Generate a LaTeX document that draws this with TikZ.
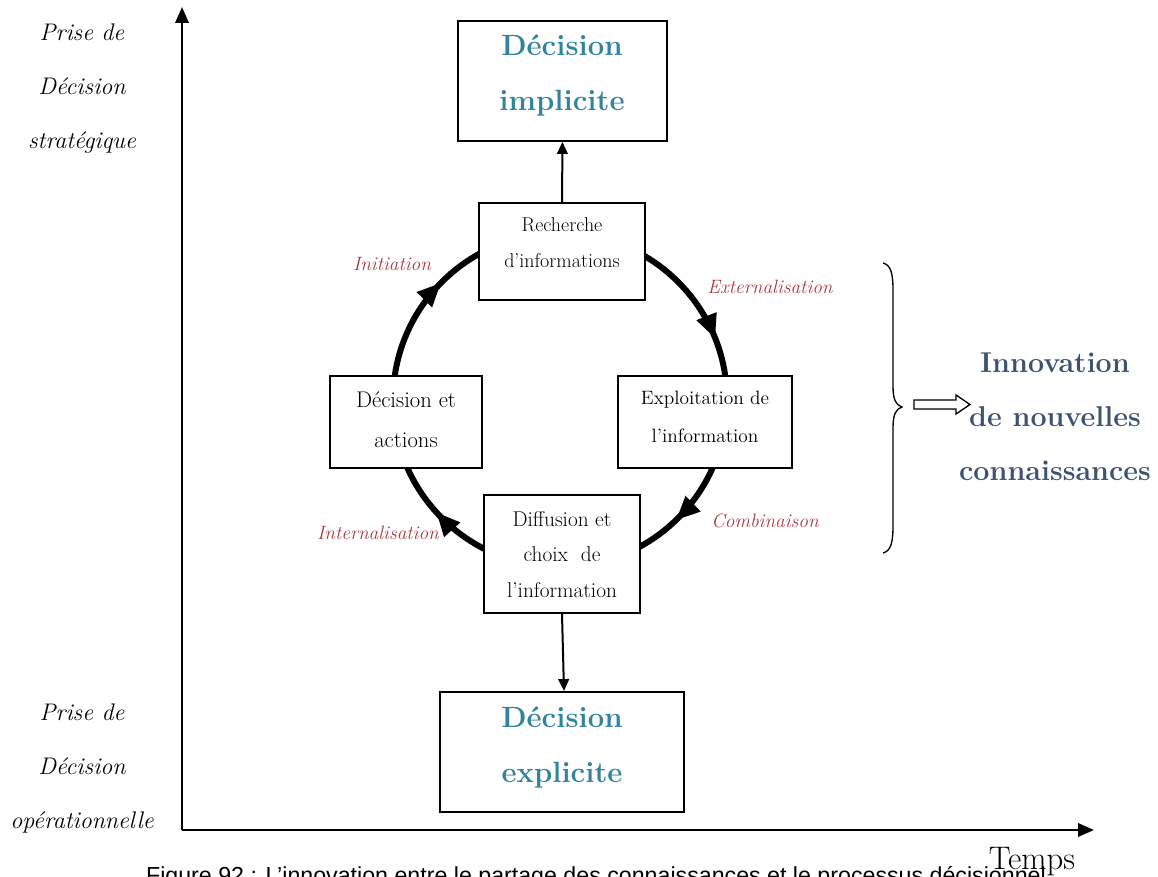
\documentclass[tikz,border=0pt]{standalone}
\usepackage{fontspec}
\newfontfamily\capfont{Liberation Sans}
\usetikzlibrary{arrows.meta,decorations.markings}
\definecolor{tealc}{HTML}{31849B}
\definecolor{slatec}{HTML}{3D5170}
\definecolor{redc}{HTML}{A8393F}
\begin{document}
\begin{tikzpicture}[x=0.75pt,y=-0.75pt,
  box/.style={draw, line width=1.4pt, fill=white, inner sep=0pt},
  boxtxt/.style={align=center, inner sep=0pt},
  axisline/.style={line width=1.9pt, -{Triangle[length=12pt,width=10pt]}},
  link/.style={line width=1.5pt, -{Triangle[length=9pt,width=8pt]}},
  side/.style={font=\fontsize{18}{40.5}\selectfont\itshape, align=center, inner sep=0pt},
  phase/.style={font=\fontsize{14.5}{16}\selectfont\itshape, text=redc, inner sep=0pt},
  bigtxt/.style={font=\fontsize{22}{41.25}\selectfont\bfseries, text=tealc, align=center, inner sep=0pt},
  cyc/.style={line width=4.5pt, postaction={decorate}},
  tip/.style={decoration={markings,
     mark=at position 0.128 with {\arrow{Triangle[length=18pt,width=15pt]}},
     mark=at position 0.383 with {\arrow{Triangle[length=18pt,width=15pt]}},
     mark=at position 0.624 with {\arrow{Triangle[length=18pt,width=15pt]}},
     mark=at position 0.94 with {\arrow{Triangle[length=18pt,width=15pt]}}}}
]
\useasboundingbox (0,0) rectangle (1158,877);
\clip (0,0) rectangle (1158,877);

% axes
\coordinate (O) at (182,830);
\coordinate (Ytop) at (182,7);
\coordinate (Xend) at (1094,830);
\draw[axisline] (O) -- (Ytop);
\draw[axisline] (O) -- (Xend);

% side labels
\node[side] (strat) at (82,89) {Prise de\\Décision\\stratégique};
\node[side] (oper) at (82,768) {Prise de\\Décision\\opérationnelle};

% cycle
\draw[cyc,tip] (560,400) circle[radius=167];

% boxes
\node[box, minimum width={209*0.75pt}, minimum height={120*0.75pt}] (impl) at (562.5,81) {};
\node[bigtxt] (implT) at (562,76) {Décision\\implicite};
\node[box, minimum width={244*0.75pt}, minimum height={120*0.75pt}] (expl) at (562,752) {};
\node[bigtxt] (explT) at (562,748) {Décision\\explicite};

\node[box, minimum width={166*0.75pt}, minimum height={97*0.75pt}] (rech) at (562,251.5) {};
\node[boxtxt, font=\fontsize{15}{27}\selectfont] (rechT) at (562,243) {Recherche\\d’informations};

\node[box, minimum width={152*0.75pt}, minimum height={92*0.75pt}] (deci) at (406,422) {};
\node[boxtxt, font=\fontsize{17}{30}\selectfont] (deciT) at (406,420) {Décision et\\actions};

\node[box, minimum width={174*0.75pt}, minimum height={92*0.75pt}] (expo) at (705,422) {};
\node[boxtxt, font=\fontsize{14.5}{28.5}\selectfont] (expoT) at (705,417) {Exploitation de\\l’information};

\node[box, minimum width={156*0.75pt}, minimum height={118*0.75pt}] (diff) at (562,554) {};
\node[boxtxt, font=\fontsize{16}{26.6}\selectfont] (diffT) at (562,554.5) {Diffusion et\\choix\ \ de\\l’information};

% links
\draw[link] (rech.north) -- (impl.south);
\draw[link] (diff.south) -- ([xshift=1.5pt]expl.north);

% phase labels
\node[phase] (ini) at (392,264) {Initiation};
\node[phase] (ext) at (770,287) {Externalisation};
\node[phase] (com) at (765,521) {Combinaison};
\node[phase] (int) at (378,533) {Internalisation};

% brace
\draw[line width=1pt] (883,263) .. controls (891,265) and (893,274) .. (893,290)
  -- (893,386) .. controls (893,400) and (896,405) .. (902,407)
  .. controls (896,409) and (893,414) .. (893,428)
  -- (893,526) .. controls (893,542) and (891,551) .. (883,553);

% hollow arrow
\draw[line width=1pt, fill=white] (914,400) -- (956,400) -- (956,395) -- (970,404.5)
  -- (956,414) -- (956,409) -- (914,409) -- cycle;

\node[font=\fontsize{21.5}{40.5}\selectfont\bfseries, text=slatec, align=center, inner sep=0pt] (innov) at (1055,417) {Innovation\\de nouvelles\\connaissances};

% time
\node[font=\fontsize{24.5}{26}\selectfont, anchor=base, inner sep=0pt] (temps) at (1032,869) {Temps};

% caption
\node[font=\capfont\fontsize{17.4}{20}\selectfont, anchor=base, inner sep=0pt] (cap) at (596,883) {Figure 92 : L’innovation entre le partage des connaissances et le processus décisionnel};
\end{tikzpicture}
\end{document}
